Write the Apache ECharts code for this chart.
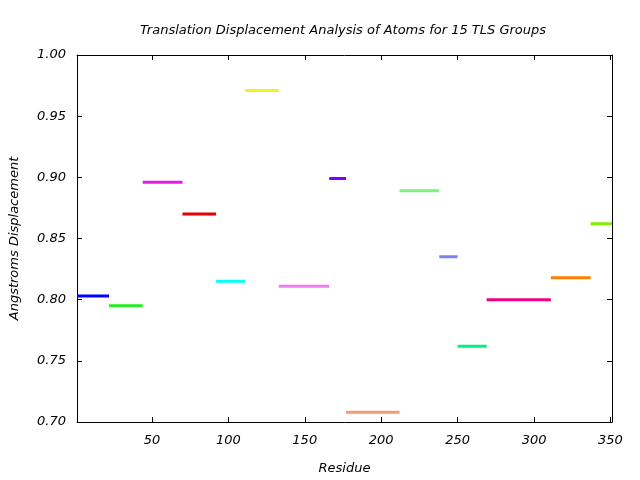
<!DOCTYPE html>
<html>
<head>
<meta charset="utf-8">
<script src="https://cdn.jsdelivr.net/npm/echarts@6/dist/echarts.min.js"></script>
<style>html,body{margin:0;padding:0;background:#fff}#c{width:640px;height:480px}</style>
</head>
<body>
<div id="c"></div>
<script>
const groupStart = [1, 22, 44, 70, 92, 111, 133, 166, 177, 212, 238, 250, 269, 311, 337];
const groupEnd   = [22, 44, 70, 92, 111, 133, 166, 177, 212, 238, 250, 269, 311, 337, 351];
const groupValue = [0.803, 0.795, 0.896, 0.870, 0.815, 0.971, 0.811, 0.899, 0.708, 0.889, 0.835, 0.762, 0.800, 0.818, 0.862];
const groupColor = ['#0000ff', '#22ee22', '#e619e6', '#e60000', '#00ffff', '#f2f21a', '#f07ef0', '#7f00ff', '#f4997a', '#80f080', '#8080f0', '#00f080', '#f00080', '#ff8000', '#80f000'];
const xTicks = [50, 100, 150, 200, 250, 300, 350];
const yTicks = [0.70, 0.75, 0.80, 0.85, 0.90, 0.95, 1.00];

const fontFam = 'DejaVu Sans';
const series = groupValue.map((v, i) => ({
  type: 'line',
  data: [[groupStart[i], v], [groupEnd[i], v]],
  showSymbol: false,
  symbol: 'none',
  silent: true,
  animation: false,
  lineStyle: { color: groupColor[i], width: 3, cap: 'butt' }
}));

const chart = echarts.init(document.getElementById('c'), null, { renderer: 'canvas' });
const axisLine = { show: true, lineStyle: { color: '#000', width: 1 } };
chart.setOption({
  animation: false,
  backgroundColor: '#fff',
  title: {
    text: 'Translation Displacement Analysis of Atoms for 15 TLS Groups',
    left: 338, top: 19, textAlign: 'center',
    textStyle: { fontFamily: fontFam, fontStyle: 'italic', fontWeight: 'normal', fontSize: 13, color: '#000' }
  },
  grid: { left: 76, right: 28, top: 55, bottom: 58, containLabel: false },
  xAxis: [{
    type: 'value', min: 1, max: 351, position: 'bottom',
    name: 'Residue', nameLocation: 'middle', nameGap: 40,
    nameTextStyle: { fontFamily: fontFam, fontStyle: 'italic', fontSize: 13, color: '#000' },
    axisLine: axisLine,
    axisTick: { show: true, inside: true, length: 5, customValues: xTicks, lineStyle: { color: '#000' } },
    axisLabel: { customValues: xTicks, fontFamily: fontFam, fontStyle: 'italic', fontSize: 13, color: '#000', margin: 12 },
    splitLine: { show: false }
  }, {
    type: 'value', min: 1, max: 351, position: 'top',
    axisLine: axisLine,
    axisTick: { show: true, inside: true, length: 5, customValues: xTicks, lineStyle: { color: '#000' } },
    axisLabel: { show: false },
    splitLine: { show: false }
  }],
  yAxis: [{
    type: 'value', min: 0.70, max: 1.00, interval: 0.05, position: 'left',
    name: 'Angstroms Displacement', nameLocation: 'middle', nameGap: 56,
    nameTextStyle: { fontFamily: fontFam, fontStyle: 'italic', fontSize: 13, color: '#000' },
    axisLine: axisLine,
    axisTick: { show: true, inside: true, length: 5, lineStyle: { color: '#000' } },
    axisLabel: { formatter: v => v.toFixed(2), fontFamily: fontFam, fontStyle: 'italic', fontSize: 13, color: '#000', margin: 11 },
    splitLine: { show: false }
  }, {
    type: 'value', min: 0.70, max: 1.00, interval: 0.05, position: 'right',
    axisLine: axisLine,
    axisTick: { show: true, inside: true, length: 5, lineStyle: { color: '#000' } },
    axisLabel: { show: false },
    splitLine: { show: false }
  }],
  series: series
});
</script>
</body>
</html>
